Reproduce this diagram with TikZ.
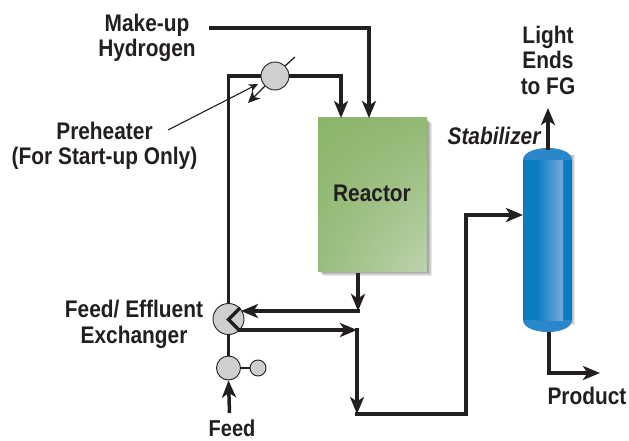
\documentclass[tikz,border=0pt]{standalone}
\usepackage{fontspec}
\usetikzlibrary{arrows.meta,calc,shadings}
\setmainfont[FakeStretch=0.87]{Liberation Sans}
\definecolor{pipe}{HTML}{231F20}
\definecolor{vessel}{HTML}{CDCFD1}
\definecolor{blueA}{HTML}{0A7DC2}
\definecolor{blueB}{HTML}{78A9DA}
\definecolor{blueC}{HTML}{2A88CA}
\definecolor{greenA}{HTML}{8CB46B}
\definecolor{greenB}{HTML}{BCD3AE}
\colorlet{greenC}{greenA!94!white}
\colorlet{greenD}{greenA!88!white}
\tikzset{
  x=1pt,y=-1pt,
  pipeline/.style={draw=pipe,line width=3.5pt,line join=miter},
  flow/.style={pipeline,-{Stealth[length=17pt,width=14pt,inset=4.5pt]}},
  thinline/.style={draw=pipe,line width=1.1pt},
  equip/.style={circle,draw=pipe,line width=0.9pt,fill=vessel,minimum size=#1,inner sep=0pt},
  lbl/.style={text=pipe,font=\fontsize{24}{25.5}\selectfont\bfseries,align=center,inner sep=0pt},
  softshadow/.style={fill=black,opacity=0.09},
}
\begin{document}
\begin{tikzpicture}
\useasboundingbox (0,0) rectangle (629,441);
\fill[white] (0,0) rectangle (629,441);
% reactor
\foreach \d in {1,2,3,4,5}{\fill[softshadow] (318+\d,118+\d) rectangle (427+\d,271+\d);}
\node[minimum width=109pt,minimum height=153pt,inner sep=0pt,anchor=north west,fill=greenA] (reactor) at (318,118) {};
\shade[upper left=greenA,upper right=greenC,lower left=greenD,lower right=greenB] (318,118) rectangle (427,271);
\node[lbl] (reactorlabel) at (372,193) {Reactor};
% column
\foreach \d in {1,2,3}{\fill[softshadow] (524+\d,155) rectangle (572+\d,322+\d);}
\node[minimum width=49pt,minimum height=184pt,inner sep=0pt,anchor=north west] (column) at (523,148) {};
\fill[blueC] (523,160) .. controls (523,152) and (536,148) .. (548,148) .. controls (560,148) and (572,152) .. (572,160)
  -- (572,320) .. controls (572,328) and (560,332) .. (548,332) .. controls (536,332) and (523,328) .. (523,320) -- cycle;
\fill[blueA] (523,160) rectangle (572,320);
\shade[left color=blueA,right color=blueB] (537,160) rectangle (563,320);
% equipment
\node[equip=28pt] (pre) at (275,76) {};
\node[equip=31pt] (exch) at (228.5,319) {};
\node[equip=24pt] (pump) at (228.5,368) {};
\node[equip=16pt] (seal) at (258,368) {};
% coordinates
\coordinate (mu) at (209,28);
\coordinate (mucorner) at (369,28);
\coordinate (muin) at (369,118);
\coordinate (loop1) at (228.5,76);
\coordinate (loop2) at (341,76);
\coordinate (loopin) at (341,118);
\coordinate (rout) at (358,273);
\coordinate (rbend) at (358,311);
\coordinate (xback) at (241,311);
\coordinate (chevA) at (240,308);
\coordinate (chevB) at (228.5,319.5);
\coordinate (chevC) at (240,331);
\coordinate (eff) at (238,330);
\coordinate (bend) at (357,330);
\coordinate (low) at (357,414);
\coordinate (lowr) at (466,414);
\coordinate (up) at (466,215);
\coordinate (colin) at (523,215);
\coordinate (coltop) at (548,150);
\coordinate (lighttip) at (548,108);
\coordinate (colout) at (549,332);
\coordinate (prodbend) at (549,373);
\coordinate (prodtip) at (600,373);
\coordinate (feedstart) at (229.5,413);
\coordinate (ptr) at (168,130);
\coordinate (ptrtip) at (258,84);
\coordinate (diagA) at (295,57);
\coordinate (diagB) at (248,103);
% pipes
\draw[flow] (mu) -- (mucorner) -- (muin);
\draw[pipeline] (exch.north) -- (loop1) -- (pre.west);
\draw[flow] (pre.east) -- (loop2) -- (loopin);
\draw[flow] (rout) -- (rbend);
\draw[flow] ([xshift=1.75pt]rbend) -- (xback);
\draw[flow] (eff) -- (bend);
\draw[flow] ([yshift=1.75pt]bend) -- (low);
\draw[flow] ([xshift=-1.75pt]low) -- (lowr) -- (up) -- (colin);
\draw[flow] (coltop) -- (lighttip);
\draw[pipeline] (colout) -- (prodbend);
\draw[flow] ([xshift=-1.75pt]prodbend) -- (prodtip);
\draw[pipeline] (exch.south) -- (pump.north);
\draw[flow] (feedstart) -- (pump.south);
\draw[thinline,line width=1.4pt] (pump.east) -- (seal.west);
\draw[pipeline] (chevA) -- (chevB) -- (chevC);
\draw[thinline,-{Stealth[length=9pt,width=8pt,inset=2.5pt]}] (ptr) -- (ptrtip);
\draw[thinline,line width=1.3pt] (diagA) -- (pre.north east);
\draw[thinline,line width=1.3pt,-{Stealth[length=12pt,width=11pt,inset=3.5pt]}] (pre.south west) -- (diagB);
% labels
\node[lbl] (l1) at (147,38) {Make-up\\Hydrogen};
\node[lbl] (l2) at (104.5,146) {Preheater\\(For Start-up Only)};
\node[lbl] (l3) at (134,324.5) {Feed/ Effluent\\Exchanger};
\node[lbl,font=\fontsize{23}{25.5}\selectfont\bfseries] (l4) at (232,428) {Feed};
\node[lbl] (l5) at (548,60) {Light\\Ends\\to FG};
\node[lbl,font=\fontsize{24}{25.5}\selectfont\bfseries\itshape] (l6) at (494,136) {Stabilizer};
\node[lbl] (l7) at (587,396) {Product};
\end{tikzpicture}
\end{document}
